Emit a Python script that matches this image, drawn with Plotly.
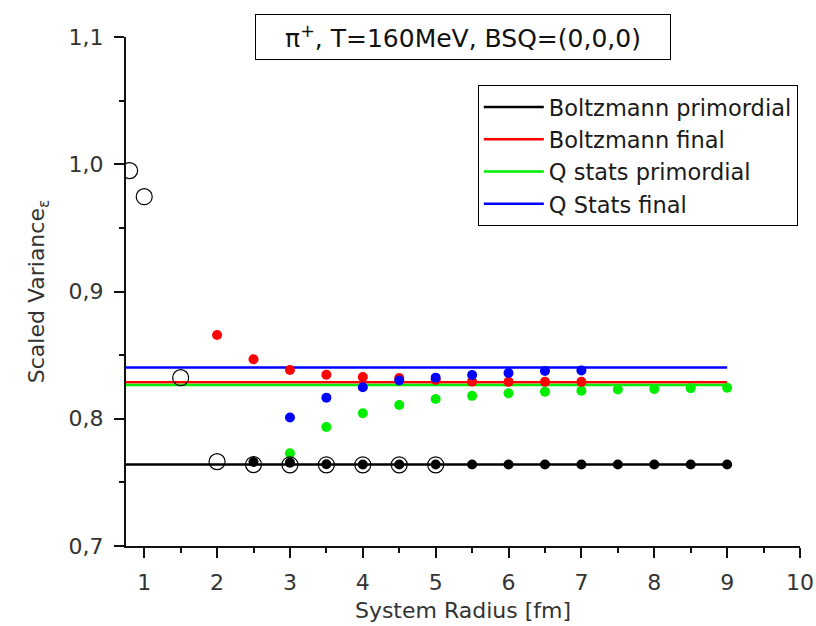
import plotly.graph_objects as go

# ---- data ----
series_names = ["Boltzmann primordial", "Boltzmann final", "Q stats primordial", "Q Stats final"]
series_colors = ["#000000", "#ff0000", "#00ee00", "#0000ff"]
line_x = [0.75, 9.0]
line_levels = [0.7640, 0.8287, 0.8265, 0.8403]

# open circles (Boltzmann primordial, exact)
open_x = [0.8, 1.0, 1.5, 2.0, 2.5, 3.0, 3.5, 4.0, 4.5, 5.0]
open_y = [0.995, 0.9745, 0.8323, 0.7663, 0.7640, 0.7638, 0.7638, 0.7638, 0.7638, 0.7638]

# filled points
bp_x = [2.5, 3.0, 3.5, 4.0, 4.5, 5.0, 5.5, 6.0, 6.5, 7.0, 7.5, 8.0, 8.5, 9.0]
bp_y = [0.7660, 0.7655, 0.7642, 0.7641, 0.7640, 0.7640, 0.7640, 0.7640, 0.7640, 0.7640, 0.7640, 0.7640, 0.7640, 0.7640]

bf_x = [2.0, 2.5, 3.0, 3.5, 4.0, 4.5, 5.0, 5.5, 6.0, 6.5, 7.0]
bf_y = [0.8658, 0.8467, 0.8383, 0.8346, 0.8328, 0.8320, 0.8305, 0.8292, 0.8290, 0.8290, 0.8290]

qp_x = [3.0, 3.5, 4.0, 4.5, 5.0, 5.5, 6.0, 6.5, 7.0, 7.5, 8.0, 8.5, 9.0]
qp_y = [0.7728, 0.7935, 0.8043, 0.8108, 0.8155, 0.8180, 0.8200, 0.8213, 0.8220, 0.8230, 0.8234, 0.8240, 0.8244]

qf_x = [3.0, 3.5, 4.0, 4.5, 5.0, 5.5, 6.0, 6.5, 7.0]
qf_y = [0.8010, 0.8166, 0.8247, 0.8300, 0.8323, 0.8344, 0.8360, 0.8375, 0.8380]

x_ticks = [1, 2, 3, 4, 5, 6, 7, 8, 9, 10]
y_ticks = [0.7, 0.8, 0.9, 1.0, 1.1]

FONT = "DejaVu Sans"
AX = "#111111"
TXT = "#333333"

fig = go.Figure()

# horizontal level lines (legend entries)
for name, col, lev in zip(series_names, series_colors, line_levels):
    fig.add_trace(go.Scatter(x=line_x, y=[lev, lev], mode="lines", name=name,
                             line=dict(color=col, width=2.5)))

# filled markers
for xs, ys, col in [(qp_x, qp_y, series_colors[2]), (bf_x, bf_y, series_colors[1]),
                    (qf_x, qf_y, series_colors[3]), (bp_x, bp_y, series_colors[0])]:
    fig.add_trace(go.Scatter(x=xs, y=ys, mode="markers", showlegend=False,
                             marker=dict(color=col, size=10, line=dict(width=0))))

# open circles
fig.add_trace(go.Scatter(x=open_x, y=open_y, mode="markers", showlegend=False,
                         marker=dict(symbol="circle-open", color="#000000", size=16,
                                     line=dict(width=1.2, color="#000000"))))

fig.update_layout(
    width=816, height=626,
    margin=dict(l=126, r=16, t=37, b=80, autoexpand=False),
    paper_bgcolor="white", plot_bgcolor="white",
    separators=", ",
    font=dict(family=FONT, color=TXT, size=22),
    showlegend=True,
    legend=dict(x=0.522, y=0.906, xanchor="left", yanchor="top",
                bgcolor="white", bordercolor="#000000", borderwidth=1,
                font=dict(family=FONT, size=22.5, color="#1a1a1a"),
                itemwidth=60, tracegroupgap=0),
    xaxis=dict(range=[0.75, 10], tickvals=x_ticks, ticktext=[str(v) for v in x_ticks],
               automargin=True, ticklabeloverflow="allow",
               showgrid=False, zeroline=False, showline=True, linecolor=AX, linewidth=2,
               ticks="outside", ticklen=10, tickwidth=1.5, tickcolor=AX,
               ticklabelstandoff=6,
               minor=dict(dtick=0.5, tick0=0, ticks="outside", ticklen=5, tickwidth=1.5, tickcolor=AX),
               title=dict(text="System Radius [fm]", font=dict(family=FONT, size=22, color=TXT), standoff=8),
               tickfont=dict(family=FONT, size=22, color=TXT)),
    yaxis=dict(range=[0.7, 1.1], tickvals=y_ticks, tickformat=".1f",
               automargin=True,
               showgrid=False, zeroline=False, showline=True, linecolor=AX, linewidth=2,
               ticks="outside", ticklen=10, tickwidth=1.5, tickcolor=AX,
               ticklabelstandoff=6,
               minor=dict(dtick=0.05, tick0=0, ticks="outside", ticklen=5, tickwidth=1.5, tickcolor=AX),
               title=dict(text="Scaled Variance<sub>ε</sub>", font=dict(family=FONT, size=22, color=TXT), standoff=18),
               tickfont=dict(family=FONT, size=22, color=TXT)),
    annotations=[dict(text="π<sup>+</sup>, T=160MeV, BSQ=(0,0,0)", xref="paper", yref="paper",
                      x=0.5, y=1.0, xanchor="center", yanchor="middle", showarrow=False,
                      font=dict(family=FONT, size=25, color="#111111"),
                      bordercolor="#000000", borderwidth=1, bgcolor="white",
                      width=408, height=38, borderpad=3)],
)

fig.write_html("out.html",
               config={"displayModeBar": False},
               post_script="document.body.style.margin='0';document.body.style.overflow='hidden';")
